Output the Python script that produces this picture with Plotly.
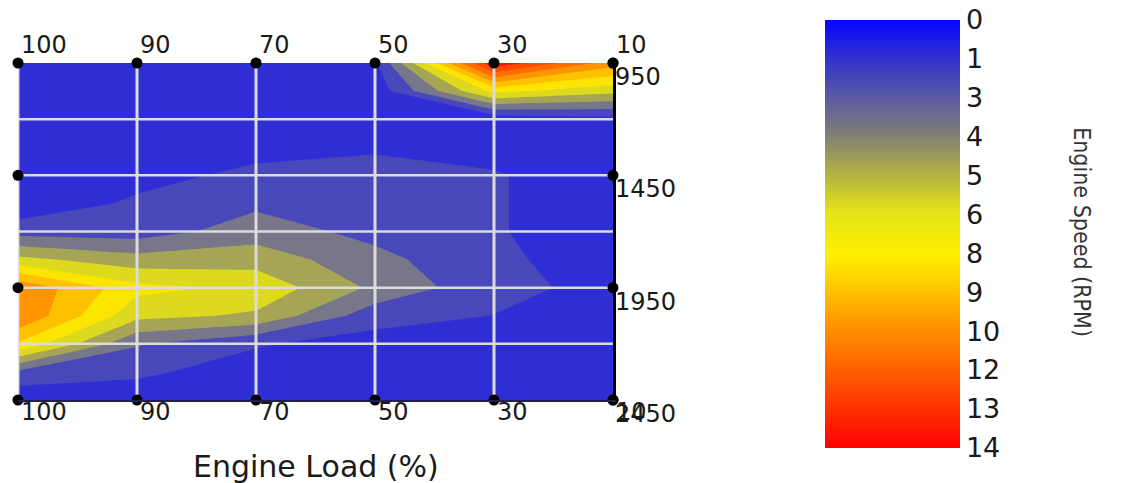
import plotly.graph_objects as go

# engine load columns (left to right) and engine speed rows (top to bottom)
loads = [100, 90, 70, 50, 30, 10]
speeds = [950, 1075, 1200, 1325, 1450, 1575, 1700, 1825, 1950, 2075, 2200, 2325, 2450]
speed_labels = [950, 1450, 1950, 2450]
grid_speeds = [1200, 1450, 1700, 1950, 2200]

# values, one row per speed, one column per load
z = [
    [0.38, 0.38, 0.38, 1.02, 13.75, 9.50],
    [0.38, 0.38, 0.38, 0.51, 6.75, 5.50],
    [0.38, 0.38, 0.38, 0.51, 0.38, 0.89],
    [0.25, 0.38, 0.76, 1.15, 0.76, 0.38],
    [0.25, 0.76, 1.65, 1.65, 1.40, 0.38],
    [0.25, 1.53, 2.29, 1.91, 1.40, 0.38],
    [2.04, 1.91, 3.18, 2.16, 1.40, 0.38],
    [5.47, 4.33, 4.58, 2.93, 1.53, 0.64],
    [10.00, 6.75, 5.98, 3.56, 1.65, 0.89],
    [10.10, 5.47, 4.90, 1.78, 1.25, 0.38],
    [7.50, 2.67, 1.40, 0.76, 0.38, 0.38],
    [2.29, 1.53, 0.64, 0.38, 0.38, 0.38],
    [0.25, 0.51, 0.38, 0.38, 0.38, 0.38],
]

cbar_labels = ['0', '1', '3', '4', '5', '6', '8', '9', '10', '12', '13', '14']
z_max = 14

# fill colour of each contour band, lowest band first
band_colors = ['rgb(46,46,212)', 'rgb(98,98,162)', 'rgb(140,140,112)', 'rgb(190,190,58)',
               'rgb(250,244,4)', 'rgb(255,214,0)', 'rgb(255,170,0)', 'rgb(255,128,0)',
               'rgb(255,90,0)', 'rgb(255,55,0)', 'rgb(250,20,0)']
n_levels = len(band_colors) - 1
step = z_max / (len(cbar_labels) - 1)
contour_scale = [[0, band_colors[0]]]
for k in range(n_levels):
    contour_scale.append([(k + 0.5) / n_levels, band_colors[k]])
contour_scale.append([1, band_colors[-1]])

# colour bar gradient, from the top (0) to the bottom (14)
bar_stops = [(0.00, 'rgb(5,5,255)'), (0.09, 'rgb(50,50,205)'), (0.18, 'rgb(90,90,165)'),
             (0.27, 'rgb(128,128,118)'), (0.36, 'rgb(178,178,68)'), (0.45, 'rgb(228,228,22)'),
             (0.55, 'rgb(255,240,0)'), (0.64, 'rgb(255,190,0)'), (0.73, 'rgb(255,140,0)'),
             (0.82, 'rgb(255,95,0)'), (0.91, 'rgb(255,48,0)'), (1.00, 'rgb(255,0,0)')]
bar_scale = [[1 - p, c] for p, c in reversed(bar_stops)]
# the bar runs 0 at the top to 14 at the bottom, so tick values are mirrored
cbar_vals = [z_max - k * step for k in range(len(cbar_labels))]

x_idx = list(range(len(loads)))
x_last = x_idx[-1]
tick_font = dict(family='DejaVu Sans', size=24, color='#1a1a1a')

fig = go.Figure()

fig.add_trace(go.Contour(
    x=x_idx, y=speeds, z=z,
    colorscale=contour_scale,
    contours=dict(start=step, end=step * n_levels, size=step, coloring='fill', showlines=False),
    line=dict(width=0, smoothing=0),
    showscale=False, hoverinfo='skip'))

# grid drawn over the filled contours
gx, gy = [], []
for i in x_idx[:-1]:
    gx += [i, i, None]
    gy += [speeds[0], speeds[-1], None]
fig.add_trace(go.Scatter(x=gx, y=gy, mode='lines', line=dict(color='#dcdcdc', width=3),
                         hoverinfo='skip', showlegend=False))
hx, hy = [], []
for s in grid_speeds:
    hx += [x_idx[0], x_last, None]
    hy += [s, s, None]
fig.add_trace(go.Scatter(x=hx, y=hy, mode='lines', line=dict(color='#dcdcdc', width=2.5),
                         hoverinfo='skip', showlegend=False))

# black dots along the frame
dot_x = x_idx + x_idx + [x_last] * len(speed_labels) + [x_idx[0]] * 2
dot_y = [speeds[0]] * len(x_idx) + [speeds[-1]] * len(x_idx) + speed_labels + speed_labels[1:3]
fig.add_trace(go.Scatter(x=dot_x, y=dot_y, mode='markers', cliponaxis=False,
                         marker=dict(color='black', size=11),
                         hoverinfo='skip', showlegend=False))

# invisible trace carrying the smooth colour bar
fig.add_trace(go.Scatter(
    x=[x_idx[0], x_idx[0]], y=[speeds[0], speeds[0]], mode='markers',
    marker=dict(size=0.1, color=[0, z_max], colorscale=bar_scale, cmin=0, cmax=z_max,
                showscale=True,
                colorbar=dict(x=1.3563, xanchor='left', y=1.128, yanchor='top',
                              len=428, lenmode='pixels', thickness=135, thicknessmode='pixels',
                              xpad=0, ypad=0, outlinewidth=0, ticks='',
                              tickvals=cbar_vals, ticktext=cbar_labels,
                              ticklabeloverflow='allow',
                              tickfont=dict(family='DejaVu Sans', size=27, color='#1a1a1a'))),
    hoverinfo='skip', showlegend=False))

annotations = []
for i, load in zip(x_idx, loads):
    annotations.append(dict(x=i, xref='x', y=1, yref='paper', text=str(load), showarrow=False,
                            xanchor='left', yanchor='bottom', xshift=1, yshift=2, font=tick_font))
    annotations.append(dict(x=i, xref='x', y=0, yref='paper', text=str(load), showarrow=False,
                            xanchor='left', yanchor='top', xshift=1, yshift=4, font=tick_font))
for s in speed_labels:
    annotations.append(dict(x=1, xref='paper', y=s, yref='y', text=str(s), showarrow=False,
                            xanchor='left', yanchor='top', xshift=0, yshift=2, font=tick_font))
annotations.append(dict(x=0.5, xref='paper', y=-0.196, yref='paper', text='Engine Load (%)',
                        showarrow=False, xanchor='center', yanchor='middle',
                        font=dict(family='DejaVu Sans', size=30, color='#1a1a1a')))
annotations.append(dict(x=1.788, xref='paper', y=0.4985, yref='paper', text='Engine Speed (RPM)',
                        showarrow=False, textangle=90, xanchor='center', yanchor='middle',
                        font=dict(family='DejaVu Sans Condensed', size=23, color='#333333')))

# the page body adds 8px around the figure, so the figure is drawn 8px smaller
fig.update_layout(
    width=1114, height=475,
    margin=dict(l=10, r=509, t=55, b=83),
    paper_bgcolor='white', plot_bgcolor='white',
    showlegend=False,
    annotations=annotations,
    xaxis=dict(range=[x_idx[0], x_last], showgrid=False, zeroline=False, showticklabels=False,
               showline=True, linecolor='#20204a', linewidth=2),
    xaxis2=dict(range=[x_idx[0], x_last], overlaying='x', side='top', showgrid=False,
                zeroline=False, showticklabels=False, showline=True, linecolor='black',
                linewidth=3),
    yaxis=dict(range=[speeds[-1], speeds[0]], side='right', showgrid=False, zeroline=False,
               showticklabels=False, showline=True, linecolor='black', linewidth=3),
)

fig.write_html("out.html")
